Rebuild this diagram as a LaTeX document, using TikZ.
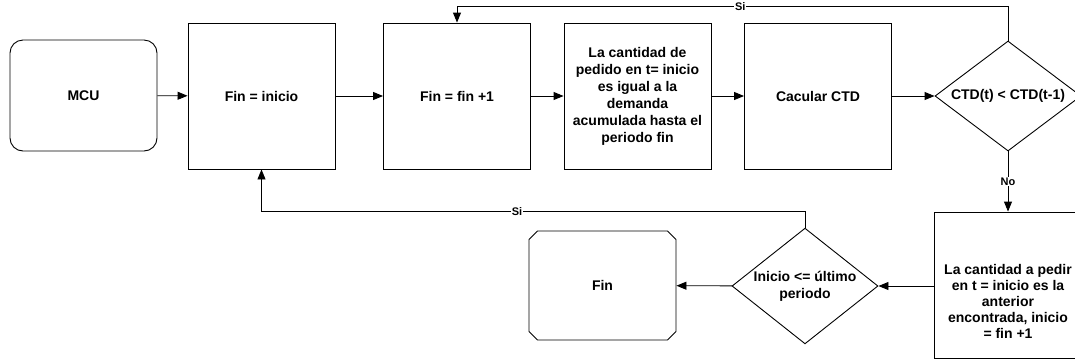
\documentclass[tikz,border=0pt]{standalone}
\usepackage{fontspec}
\setmainfont{Liberation Sans}
\usetikzlibrary{arrows.meta,shapes.geometric,shapes.misc}

\begin{document}
\begin{tikzpicture}[x=1pt,y=-1pt,every text node part/.style={align=center},
  font=\bfseries\fontsize{14}{17}\selectfont,line width=0.9pt,
  >={Triangle[length=10pt,width=8pt]}]
\tikzstyle{every node}+=[inner sep=0pt]
\tikzstyle{caja}=[draw=black,rectangle,minimum width=147pt,minimum height=146pt]
\tikzstyle{decision}=[draw=black,diamond,aspect=1.2,minimum width=146pt,minimum height=110pt]
\tikzstyle{etiq}=[fill=white,inner sep=1pt,font=\bfseries\fontsize{11}{13}\selectfont]
\useasboundingbox (0,0) rectangle (1075,360);
\node [draw=black,rounded corners=13pt,minimum width=147pt,minimum height=111pt] (mcu) at (83.5,95.5) {MCU};
\node [caja] (finIni) at (261.5,96) {Fin = inicio};
\node [caja] (finFin) at (457,96) {Fin = fin +1};
\node [caja] (cantidad) at (637.5,96) {La cantidad de\\pedido en t= inicio\\es igual a la\\demanda\\acumulada hasta el\\periodo fin};
\node [caja] (calcCTD) at (818,96) {Cacular CTD};
\node [decision] (ctd) at (1008,96) {CTD(t) < CTD(t-1)};
\node [caja,label={[yshift=-16pt,font=\bfseries\fontsize{14}{16}\selectfont]center:{La cantidad a pedir\\en t = inicio es la\\anterior\\encontrada, inicio\\= fin +1}}] (pedir) at (1008,285) {};
\node [decision] (ultimo) at (805,286) {Inicio <= último\\periodo};
\node [draw=black,chamfered rectangle,chamfered rectangle xsep=15pt,chamfered rectangle angle=45,minimum width=147pt,minimum height=109pt] (fin) at (602.5,285.5) {Fin};
\draw [black,->] (mcu) -- (finIni);
\draw [black,->] (finIni) -- (finFin);
\draw [black,->] (finFin) -- (cantidad);
\draw [black,->] (cantidad) -- (calcCTD);
\draw [black,->] (calcCTD) -- (ctd);
\draw [black,->] (ctd.north) -- ++(0,-34) -| node[etiq,pos=0.243] {Si} (finFin.north);
\draw [black,->] (ctd.south) -- node[etiq] {No} (pedir.north);
\draw [black,->] (pedir.west |- ultimo.east) -- (ultimo.east);
\draw [black,->] (ultimo) -- (fin);
\draw [black,->] (ultimo.north) -- ++(0,-16) -| node[etiq,pos=0.265] {Si} (finIni.south);
\end{tikzpicture}
\end{document}
